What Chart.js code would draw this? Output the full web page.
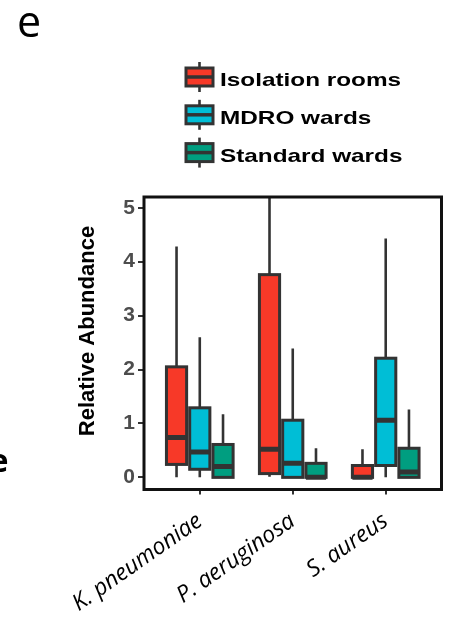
<!DOCTYPE html>
<html>
<head>
<meta charset="utf-8">
<script src="https://cdn.jsdelivr.net/npm/chart.js@4/dist/chart.umd.min.js"></script>
<style>
  html, body { margin: 0; padding: 0; background: #fff; }
  #c { display: block; }
</style>
</head>
<body>
<canvas id="c" width="449" height="620" style="width:449px;height:620px"></canvas>
<script>
// Categories, groups and tick labels
const categories = ['K. pneumoniae', 'P. aeruginosa', 'S. aureus'];
const groups = ['Isolation rooms', 'MDRO wards', 'Standard wards'];
const groupColors = ['#F73928', '#00BED6', '#009E80'];
const yTicks = [0, 1, 2, 3, 4, 5];

// Box summaries (lower whisker, Q1, median, Q3, upper whisker), one value per category
const isolationLow  = [0.00, 0.01, 0.00];
const isolationQ1   = [0.24, 0.07, 0.00];
const isolationMed  = [0.74, 0.52, 0.00];
const isolationQ3   = [2.05, 3.76, 0.22];
const isolationHigh = [4.28, 6.30, 0.52];

const mdroLow  = [0.00, 0.00, 0.00];
const mdroQ1   = [0.15, 0.00, 0.22];
const mdroMed  = [0.47, 0.26, 1.06];
const mdroQ3   = [1.29, 1.06, 2.21];
const mdroHigh = [2.60, 2.39, 4.43];

const standardLow  = [0.00, 0.00, 0.00];
const standardQ1   = [0.00, 0.00, 0.00];
const standardMed  = [0.20, 0.00, 0.10];
const standardQ3   = [0.61, 0.26, 0.54];
const standardHigh = [1.17, 0.54, 1.26];

const summaries = [
  { low: isolationLow, q1: isolationQ1, med: isolationMed, q3: isolationQ3, high: isolationHigh },
  { low: mdroLow, q1: mdroQ1, med: mdroMed, q3: mdroQ3, high: mdroHigh },
  { low: standardLow, q1: standardQ1, med: standardMed, q3: standardQ3, high: standardHigh }
];

const INK = '#333333';
const DODGE = 0.25;     // spacing between boxes inside a category
const BOX_W = 0.217;    // box width in category units

const boxPlugin = {
  id: 'boxes',
  afterDatasetsDraw(chart) {
    const { ctx, chartArea: a, scales: { x, y } } = chart;
    ctx.save();
    ctx.beginPath();
    ctx.rect(a.left, a.top, a.right - a.left, a.bottom - a.top);
    ctx.clip();
    const half = (x.getPixelForValue(BOX_W) - x.getPixelForValue(0)) / 2;
    summaries.forEach((s, g) => {
      categories.forEach((cat, i) => {
        const cx = x.getPixelForValue(i + 1 + (g - 1) * DODGE);
        const pLow = y.getPixelForValue(s.low[i]);
        const pQ1 = y.getPixelForValue(s.q1[i]);
        const pMed = y.getPixelForValue(s.med[i]);
        const pQ3 = y.getPixelForValue(s.q3[i]);
        const pHigh = y.getPixelForValue(s.high[i]);
        // whiskers
        ctx.strokeStyle = INK;
        ctx.lineWidth = 2.6;
        ctx.lineCap = 'butt';
        ctx.beginPath();
        ctx.moveTo(cx, pQ3); ctx.lineTo(cx, pHigh);
        ctx.moveTo(cx, pQ1); ctx.lineTo(cx, pLow);
        ctx.stroke();
        // box
        ctx.fillStyle = groupColors[g];
        ctx.fillRect(cx - half, pQ3, half * 2, pQ1 - pQ3);
        ctx.lineWidth = 3;
        ctx.strokeRect(cx - half, pQ3, half * 2, pQ1 - pQ3);
        // median
        ctx.lineWidth = 5;
        ctx.beginPath();
        ctx.moveTo(cx - half, pMed); ctx.lineTo(cx + half, pMed);
        ctx.stroke();
      });
    });
    ctx.restore();
    // panel frame
    ctx.save();
    ctx.strokeStyle = '#111';
    ctx.lineWidth = 3;
    ctx.strokeRect(a.left, a.top, a.right - a.left, a.bottom - a.top);
    ctx.restore();
  },
  afterDraw(chart) {
    const { ctx } = chart;
    ctx.save();
    // panel letters
    ctx.fillStyle = '#000';
    ctx.font = '43px "Open Sans"';
    ctx.textBaseline = 'alphabetic';
    ctx.textAlign = 'left';
    ctx.fillText('e', 17, 37);
    ctx.font = 'bold 33px "Open Sans"';
    ctx.fillText('e', -11, 472);

    // y axis title
    ctx.save();
    ctx.translate(94, 331);
    ctx.rotate(-Math.PI / 2);
    ctx.font = 'bold 22px "Liberation Sans"';
    ctx.textAlign = 'center';
    ctx.textBaseline = 'alphabetic';
    ctx.fillStyle = '#000';
    ctx.fillText('Relative Abundance', 0, 0);
    ctx.restore();

    // legend with box-shaped keys
    groups.forEach((name, g) => {
      const base = 86 + g * 37.8;
      const kx = 186, kw = 27, kh = 18;
      const mid = kx + kw / 2;
      ctx.strokeStyle = INK;
      ctx.lineWidth = 2.6;
      ctx.beginPath();
      ctx.moveTo(mid, base - kh - 6); ctx.lineTo(mid, base + 6);
      ctx.stroke();
      ctx.fillStyle = groupColors[g];
      ctx.fillRect(kx, base - kh, kw, kh);
      ctx.lineWidth = 3;
      ctx.strokeRect(kx, base - kh, kw, kh);
      ctx.lineWidth = 3.5;
      ctx.beginPath();
      ctx.moveTo(kx, base - kh / 2); ctx.lineTo(kx + kw, base - kh / 2);
      ctx.stroke();
      ctx.save();
      ctx.translate(220, base);
      ctx.scale(1.28, 1);
      ctx.fillStyle = '#000';
      ctx.font = 'bold 19px "Liberation Sans"';
      ctx.textAlign = 'left';
      ctx.fillText(name, 0, 0);
      ctx.restore();
    });
    ctx.restore();
  }
};

new Chart(document.getElementById('c'), {
  type: 'scatter',
  data: {
    datasets: groups.map((name, g) => ({ label: name, data: [], backgroundColor: groupColors[g] }))
  },
  options: {
    responsive: false,
    animation: false,
    devicePixelRatio: 1,
    layout: { padding: { top: 197, right: 7.5, left: 0, bottom: 0 } },
    plugins: { legend: { display: false }, tooltip: { enabled: false } },
    scales: {
      x: {
        type: 'linear',
        min: 0.4,
        max: 3.6,
        afterBuildTicks(axis) { axis.ticks = categories.map((c, i) => ({ value: i + 1 })); },
        afterFit(axis) { axis.height = 130.5; },
        border: { display: false },
        grid: { drawOnChartArea: false, drawTicks: true, tickLength: 5, color: INK, lineWidth: 2 },
        ticks: {
          autoSkip: false,
          minRotation: 35,
          maxRotation: 35,
          padding: 13,
          color: '#000',
          font: { family: '"Open Sans"', style: 'italic', size: 23 },
          callback: (v) => categories[v - 1]
        }
      },
      y: {
        type: 'linear',
        min: -0.225,
        max: 5.2,
        afterBuildTicks(axis) { axis.ticks = yTicks.map(v => ({ value: v })); },
        afterFit(axis) { axis.width = 144; },
        border: { display: false },
        grid: { drawOnChartArea: false, drawTicks: true, tickLength: 6, color: INK, lineWidth: 2 },
        ticks: {
          padding: 3,
          color: '#4D4D4D',
          font: { family: '"Liberation Sans"', weight: 'bold', size: 21 },
          callback: (v) => String(v)
        }
      }
    }
  },
  plugins: [boxPlugin]
});
</script>
</body>
</html>
